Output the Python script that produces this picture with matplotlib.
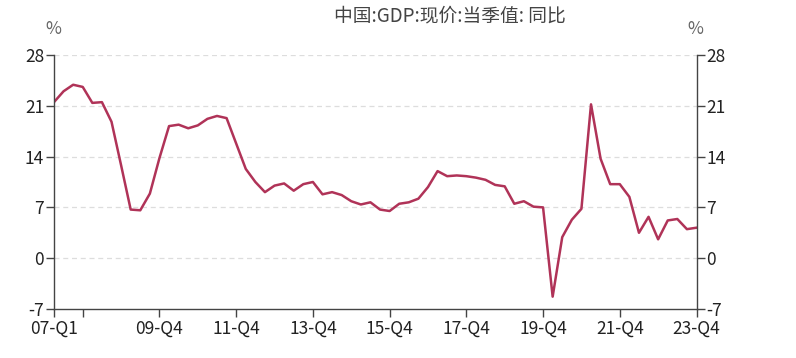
import numpy as np
import matplotlib.pyplot as plt

plt.rcParams['font.family'] = ['Noto Sans CJK SC', 'DejaVu Sans']

# 07-Q1 ... 23-Q4
quarters = [f"{y:02d}-Q{q}" for y in range(7, 24) for q in range(1, 5)]
gdp_yoy = [21.5, 23.0, 23.9, 23.6, 21.4, 21.5, 18.8, 12.8,
           6.7, 6.6, 8.9, 13.8, 18.2, 18.4, 17.9, 18.3,
           19.2, 19.6, 19.3, 15.8, 12.3, 10.5, 9.1, 10.0,
           10.3, 9.3, 10.2, 10.5, 8.8, 9.1, 8.7, 7.85,
           7.4, 7.7, 6.7, 6.5, 7.5, 7.7, 8.2, 9.8,
           12.0, 11.3, 11.4, 11.3, 11.1, 10.8, 10.1, 9.9,
           7.5, 7.85, 7.1, 7.0, -5.3, 2.9, 5.3, 6.8,
           21.2, 13.7, 10.2, 10.2, 8.45, 3.5, 5.7, 2.6,
           5.2, 5.4, 4.0, 4.2]
tick_pos = [0, 3, 11, 19, 27, 35, 43, 51, 59, 67]
yticks = [-7, 0, 7, 14, 21, 28]

x = np.arange(len(quarters))

fig = plt.figure(figsize=(7.96, 3.58), dpi=100)
ax = fig.add_axes([0.0678, 0.1369, 0.8072, 0.7095])

ax.plot(x, gdp_yoy, color='#b03358', lw=1.8)

ax.set_xlim(0, len(quarters) - 1)
ax.set_ylim(-7, 28)
ax.set_yticks(yticks)
ax.set_yticklabels([str(v) for v in yticks])
ax.set_xticks(tick_pos)
ax.set_xticklabels([quarters[i] if i != 3 else '' for i in tick_pos])

for v in yticks[1:]:
    ax.axhline(v, color='#dddddd', lw=0.9, ls=(0, (4, 3)), zorder=0)

for s in ['left', 'right', 'bottom']:
    ax.spines[s].set_color('#444444')
    ax.spines[s].set_linewidth(1.0)
ax.spines['top'].set_visible(False)
ax.tick_params(axis='both', colors='#444444', labelcolor='#222222',
               labelsize=12.5, length=6, width=1.0, pad=1)
ax.tick_params(axis='x', pad=2)
ax.tick_params(axis='y', right=True, labelright=True)

fig.text(0.5653, 0.955, '中国:GDP:现价:当季值: 同比', ha='center', va='center',
         fontsize=13.5, color='#444444')
fig.text(0.067, 0.918, '%', ha='center', va='center', fontsize=12.5, color='#666666')
fig.text(0.874, 0.918, '%', ha='center', va='center', fontsize=12.5, color='#666666')

fig.savefig('out.png', dpi=100)
